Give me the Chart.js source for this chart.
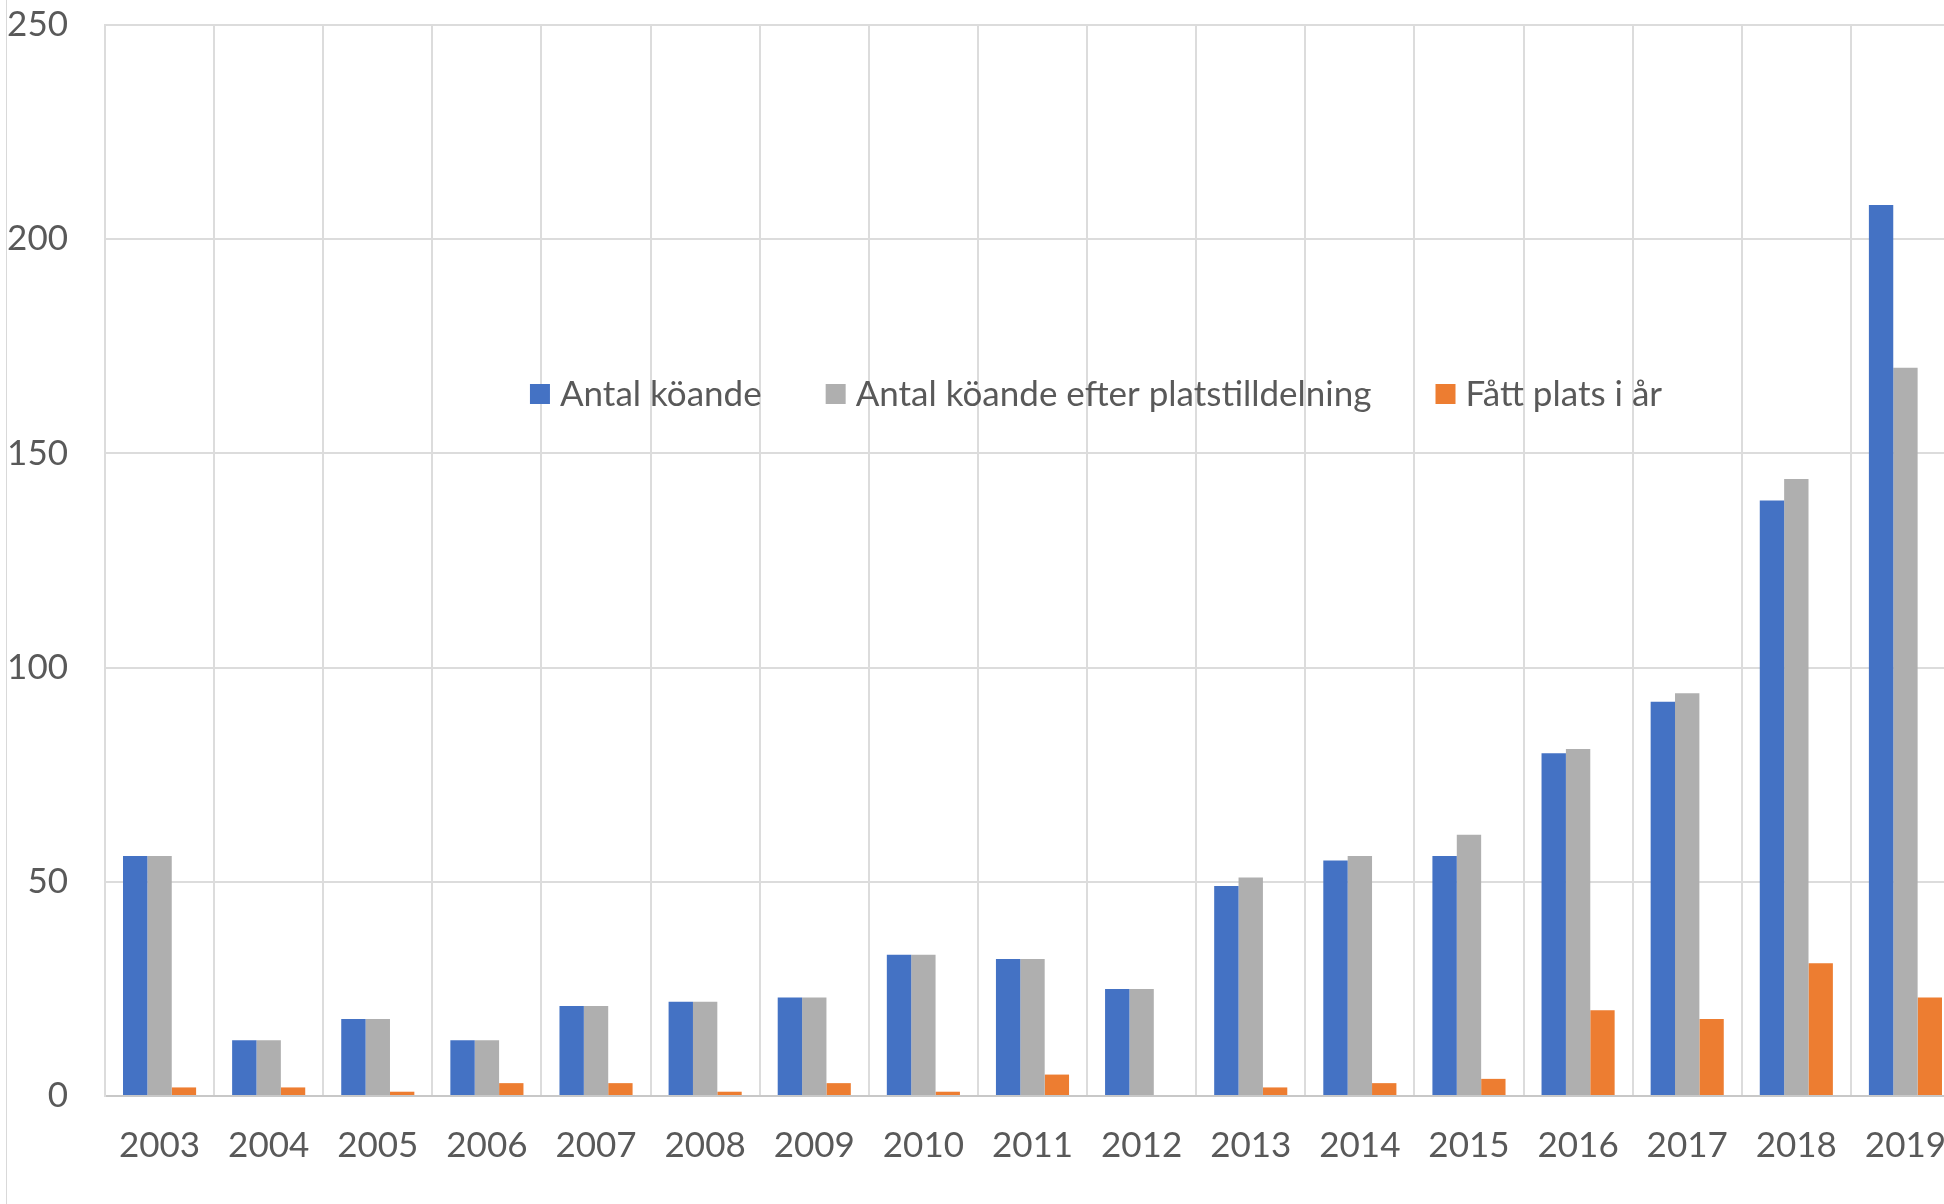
<!DOCTYPE html>
<html>
<head>
<meta charset="utf-8">
<script src="https://cdn.jsdelivr.net/npm/chart.js@4.4.1/dist/chart.umd.min.js"></script>
<style>
  html, body { margin: 0; padding: 0; background: #fff; overflow: hidden; width: 1944px; height: 1204px; }
  #frame { position: absolute; left: 6px; top: -33px; width: 1980px; height: 1237px; border-left: 1px solid #d9d9d9; }
</style>
</head>
<body>
<div id="frame"><canvas id="koChart" width="1980" height="1237"></canvas></div>
<script>
(function() {
  var ctx = document.getElementById('koChart');

  var textColor = '#595959';
  var gridColor = '#dcdcdc';
  var fontFamily = 'Lato, "Open Sans", sans-serif';

  /* Values */
  var years = ['2003', '2004', '2005', '2006', '2007', '2008', '2009', '2010', '2011',
               '2012', '2013', '2014', '2015', '2016', '2017', '2018', '2019'];
  var antalKoande      = [56, 13, 18, 13, 21, 22, 23, 33, 32, 25, 49, 55, 56, 80, 92, 139, 208];
  var antalEfterTilldelning = [56, 13, 18, 13, 21, 22, 23, 33, 32, 25, 51, 56, 61, 81, 94, 144, 170];
  var fattPlats        = [2, 2, 1, 3, 3, 1, 3, 1, 5, 0, 2, 3, 4, 20, 18, 31, 23];
  var yTicks = [0, 50, 100, 150, 200, 250];

  /* Legend drawn inside the plot area, as in the original */
  var insideLegend = {
    id: 'insideLegend',
    afterDraw: function(chart) {
      var c = chart.ctx;
      var centerX = 1089;
      var centerY = 394 + 33;
      var box = 20;
      var gapBoxText = 10;
      var gapItems = 64;
      c.save();
      c.font = '35px ' + fontFamily;
      c.textBaseline = 'middle';
      var items = chart.data.datasets.map(function(ds) {
        return { label: ds.label, color: ds.backgroundColor, w: c.measureText(ds.label).width };
      });
      var total = 0;
      items.forEach(function(it, i) {
        total += box + gapBoxText + it.w + (i < items.length - 1 ? gapItems : 0);
      });
      var x = centerX - total / 2;
      items.forEach(function(it) {
        c.fillStyle = it.color;
        c.fillRect(x, centerY - box / 2, box, box);
        x += box + gapBoxText;
        c.fillStyle = textColor;
        c.textAlign = 'left';
        c.fillText(it.label, x, centerY + 1);
        x += it.w + gapItems;
      });
      c.restore();
    }
  };

  new Chart(ctx, {
    type: 'bar',
    data: {
      labels: years,
      datasets: [
        { label: 'Antal köande', data: antalKoande, backgroundColor: '#4472c4' },
        { label: 'Antal köande efter platstilldelning', data: antalEfterTilldelning, backgroundColor: '#afafaf' },
        { label: 'Fått plats i år', data: fattPlats, backgroundColor: '#ed7d31' }
      ]
    },
    options: {
      responsive: false,
      animation: false,
      layout: { padding: { top: 25, right: 27, bottom: 0, left: 0 } },
      datasets: {
        bar: { categoryPercentage: 0.67, barPercentage: 1.0 }
      },
      plugins: {
        legend: { display: false },
        title: { display: false },
        tooltip: { enabled: false }
      },
      scales: {
        x: {
          grid: { color: gridColor, lineWidth: 2, offset: true, drawTicks: false },
          border: { color: '#c8c8c8', width: 2 },
          ticks: {
            font: { size: 35, family: fontFamily },
            color: textColor,
            padding: 29,
            maxRotation: 0,
            autoSkip: false
          },
          afterFit: function(scale) { scale.height = 108; }
        },
        y: {
          min: 0,
          max: 250,
          grid: { color: gridColor, lineWidth: 2, drawTicks: false },
          border: { color: gridColor, width: 2 },
          ticks: {
            font: { size: 35, family: fontFamily },
            color: textColor,
            padding: 37,
            stepSize: 50
          },
          afterBuildTicks: function(axis) {
            axis.ticks = yTicks.map(function(v) { return { value: v }; });
          },
          afterFit: function(scale) { scale.width = 98; }
        }
      }
    },
    plugins: [insideLegend]
  });
})();
</script>
</body>
</html>
